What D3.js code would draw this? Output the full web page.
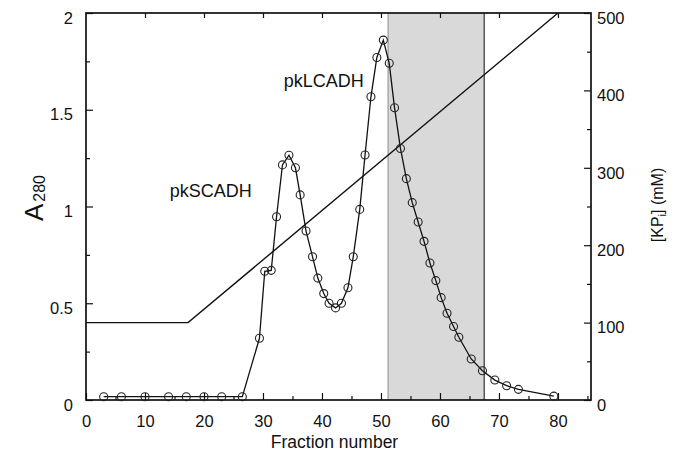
<!DOCTYPE html>
<html>
<head>
<meta charset="utf-8">
<script src="https://cdn.jsdelivr.net/npm/d3@7/dist/d3.min.js"></script>
<style>
  html, body { margin: 0; padding: 0; background: #fff; }
  svg { display: block; font-family: "Liberation Sans", Arial, Helvetica, sans-serif; }
</style>
</head>
<body>
<svg id="chart" width="681" height="456"></svg>
<script>
// ---- data ----
const fractions = [3, 6, 10, 14, 17, 20, 23, 26.5,
  29.4, 30.3, 31.4, 32.3, 33.3, 34.4, 35.5, 36.3, 37.3, 38.4,
  39.3, 40.3, 41.2, 42.3, 43.3, 44.4, 45.3, 46.4, 47.3, 48.3,
  49.3, 50.4, 51.4, 52.3, 53.3, 54.3, 55.3, 56.3, 57.3, 58.3,
  59.3, 60.2, 61.2, 62.3, 63.2, 65.3, 67.2, 69.3, 71.3, 73.3,
  79.3];
const a280 = [0.017, 0.017, 0.017, 0.017, 0.017, 0.017, 0.017, 0.017,
  0.319, 0.665, 0.67, 0.947, 1.215, 1.265, 1.20, 1.06, 0.873, 0.74,
  0.63, 0.55, 0.50, 0.476, 0.50, 0.58, 0.74, 0.985, 1.266, 1.567,
  1.77, 1.86, 1.74, 1.51, 1.30, 1.144, 1.02, 0.92, 0.82, 0.708,
  0.617, 0.529, 0.448, 0.38, 0.324, 0.212, 0.151, 0.103, 0.074, 0.055,
  0.02];
const gradientFractions = [0, 17.3, 80];
const gradientKP = [100, 100, 500];
const pooledRange = [51.2, 67.5];
const xTicks = [0, 10, 20, 30, 40, 50, 60, 70, 80];
const leftTicks = [0, 0.5, 1, 1.5, 2];
const rightTicks = [0, 100, 200, 300, 400, 500];
const peakLabels = ["pkSCADH", "pkLCADH"];
const peakLabelAt = [[14.2, 1.05], [33.5, 1.62]];

// ---- layout ----
const svg = d3.select("#chart");
const L = 86, R = 591, T = 13, B = 400;
const x = d3.scaleLinear().domain([0, 85.6]).range([L, R]);
const yA = d3.scaleLinear().domain([0, 2]).range([B, T]);
const yK = d3.scaleLinear().domain([0, 500]).range([B, T]);

// pooled fraction band
svg.append("rect")
  .attr("x", x(pooledRange[0])).attr("y", T)
  .attr("width", x(pooledRange[1]) - x(pooledRange[0]))
  .attr("height", B - T)
  .attr("fill", "#d9d9d9");
svg.append("line")
  .attr("x1", x(pooledRange[0])).attr("x2", x(pooledRange[0]))
  .attr("y1", T).attr("y2", B).attr("stroke", "#8a8a8a").attr("stroke-width", 1);
svg.append("line")
  .attr("x1", x(pooledRange[1])).attr("x2", x(pooledRange[1]))
  .attr("y1", T).attr("y2", B).attr("stroke", "#333").attr("stroke-width", 1.2);

// axes
function styleAxis(g) {
  g.select(".domain").remove();
  g.selectAll(".tick line").attr("stroke", "#111").attr("stroke-width", 1.2);
  g.selectAll(".tick text").attr("fill", "#111").style("font-size", "16.5px");
}
const fmt = d => String(d);

svg.append("g").attr("transform", `translate(${L},0)`)
  .call(d3.axisLeft(yA).tickValues(leftTicks).tickFormat(fmt).tickSize(-7).tickPadding(13))
  .call(styleAxis)
  .call(g => g.selectAll(".tick text").attr("dy", "0.62em"));
svg.append("g").attr("transform", `translate(${L},0)`)
  .call(d3.axisLeft(yA).tickValues([0.25, 0.75, 1.25, 1.75]).tickFormat("").tickSize(-4))
  .call(styleAxis);

svg.append("g").attr("transform", `translate(${R},0)`)
  .call(d3.axisRight(yK).tickValues(rightTicks).tickFormat(fmt).tickSize(-7).tickPadding(6))
  .call(styleAxis)
  .call(g => g.selectAll(".tick text").attr("dy", "0.62em"));
svg.append("g").attr("transform", `translate(${R},0)`)
  .call(d3.axisRight(yK).tickValues([50, 150, 250, 350, 450]).tickFormat("").tickSize(-4))
  .call(styleAxis);

svg.append("g").attr("transform", `translate(0,${B})`)
  .call(d3.axisBottom(x).tickValues(xTicks).tickFormat(fmt).tickSize(-7).tickPadding(15))
  .call(styleAxis);
svg.append("g").attr("transform", `translate(0,${B})`)
  .call(d3.axisBottom(x).tickValues([5, 15, 25, 35, 45, 55, 65, 75, 85]).tickFormat("").tickSize(-4))
  .call(styleAxis);
svg.append("g").attr("transform", `translate(0,${T})`)
  .call(d3.axisTop(x).tickValues(xTicks.slice(1)).tickFormat("").tickSize(-5))
  .call(styleAxis);

// frame
svg.append("rect").attr("x", L).attr("y", T).attr("width", R - L).attr("height", B - T)
  .attr("fill", "none").attr("stroke", "#111").attr("stroke-width", 1.7);

// gradient line
const gradData = gradientFractions.map((f, i) => [f, gradientKP[i]]);
svg.append("path").datum(gradData)
  .attr("fill", "none").attr("stroke", "#111").attr("stroke-width", 1.4)
  .attr("d", d3.line().x(d => x(d[0])).y(d => yK(d[1])));

// absorbance profile
const prof = fractions.map((f, i) => [f, a280[i]]);
svg.append("path").datum(prof)
  .attr("fill", "none").attr("stroke", "#111").attr("stroke-width", 1.3)
  .attr("d", d3.line().x(d => x(d[0])).y(d => yA(d[1])));
svg.append("g").selectAll("circle").data(prof).join("circle")
  .attr("cx", d => x(d[0])).attr("cy", d => yA(d[1])).attr("r", 4)
  .attr("fill", "none").attr("stroke", "#222").attr("stroke-width", 1.1);

// peak labels
svg.append("g").selectAll("text").data(peakLabels).join("text")
  .attr("x", (d, i) => x(peakLabelAt[i][0]))
  .attr("y", (d, i) => yA(peakLabelAt[i][1]))
  .attr("fill", "#111").style("font-size", "18px")
  .text(d => d);

// axis titles
svg.append("text").attr("x", (L + R) / 2 - 4).attr("y", 448)
  .attr("text-anchor", "middle").attr("fill", "#111").style("font-size", "17.5px")
  .text("Fraction number");

const aTitle = svg.append("text")
  .attr("transform", "translate(43,198) rotate(-90)")
  .attr("text-anchor", "middle").attr("fill", "#111");
aTitle.append("tspan").style("font-size", "26px").text("A");
aTitle.append("tspan").style("font-size", "16px").attr("dx", "2").attr("dy", "2").text("280");

const kTitle = svg.append("text")
  .attr("transform", "translate(663,205) rotate(-90)")
  .attr("text-anchor", "middle").attr("fill", "#111").style("font-size", "16px");
kTitle.append("tspan").text("[KP");
kTitle.append("tspan").style("font-size", "11px").attr("dy", "3").text("i");
kTitle.append("tspan").attr("dy", "-3").text("] (mM)");
</script>
</body>
</html>
